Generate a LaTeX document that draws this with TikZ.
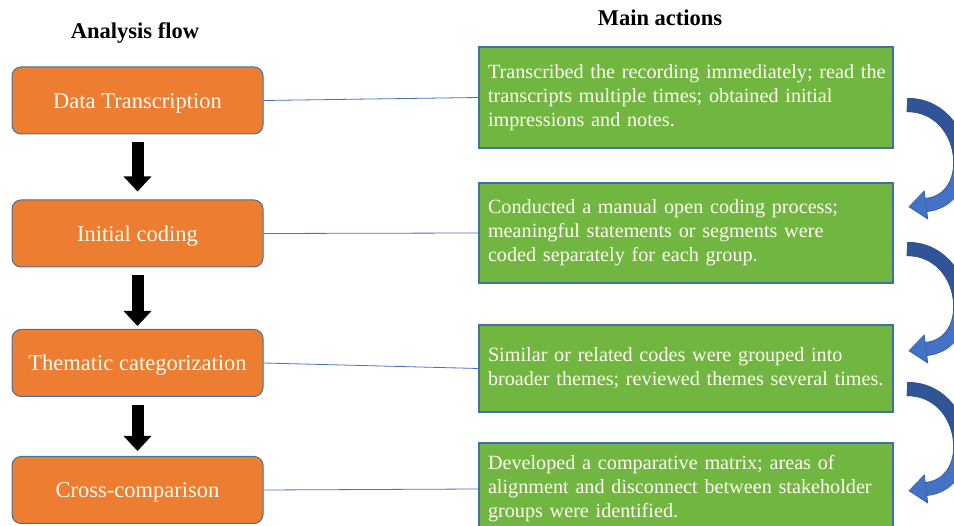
\documentclass[tikz,border=0pt]{standalone}
\usepackage{fontspec}
\setmainfont{Liberation Serif}
\usetikzlibrary{arrows.meta,calc}
\definecolor{oFill}{RGB}{237,125,49}
\definecolor{boxLine}{RGB}{65,113,156}
\definecolor{gFill}{RGB}{114,182,66}
\definecolor{connBlue}{RGB}{68,114,196}
\definecolor{arDark}{RGB}{47,85,151}
\definecolor{arLight}{RGB}{68,114,196}
\definecolor{arEdge}{RGB}{58,98,170}
\definecolor{txtWhite}{RGB}{255,252,240}
\tikzset{
  obox/.style={draw=boxLine, line width=1pt, fill=oFill, rounded corners=9pt,
    minimum width=251pt, minimum height=67pt, text=txtWhite,
    text height=19pt, text depth=3pt,
    font=\fontsize{22.5}{26}\selectfont},
  gbox/.style={draw=boxLine, line width=1.2pt, fill=gFill, minimum width=414pt,
    inner xsep=9pt, text width=396pt, align=left, text=txtWhite,
    font=\fontsize{20.2}{24}\selectfont},
  titletext/.style={font=\fontsize{22.5}{26}\selectfont\bfseries},
  conn/.style={draw=connBlue, line width=0.8pt},
  downarrow/.style={line width=12pt, -{Triangle[width=27pt,length=15pt]}},
  curvarrow/.pic={
    \draw[line width=14pt, arEdge] (0,0) .. controls (62,0) and (72,95) .. (19,100);
    \draw[line width=12pt, arLight] (1,0) .. controls (62,0) and (72,95) .. (19.5,100);
    \filldraw[fill=arLight, draw=arEdge, line width=0.8pt] (20.7,113.9) -- (2.1,101.8) -- (17.3,86.1) -- cycle;
    \draw[line width=14pt, arDark] (0,0) .. controls (37.2,0) and (55.68,34.2) .. (53.26,62.40);
  }
}
\begin{document}
\begin{tikzpicture}[x=1pt,y=-1pt]
\useasboundingbox (0,0) rectangle (954,526);
% titles
\node[titletext] (t1) at (135,33) {Analysis flow};
\node[titletext] (t2) at (660,18) {Main actions};
% analysis flow boxes
\node[obox] (o1) at (137.5,100.5) {Data Transcription};
\node[obox] (o2) at (137.5,233.5) {Initial coding};
\node[obox] (o3) at (137.5,363) {Thematic categorization};
\node[obox] (o4) at (137.5,490) {Cross-comparison};
% main action boxes
\node[gbox, minimum height=101pt] (g1) at (686,97.5)
  {\mbox{Transcribed the recording immediately; read the}\\\mbox{transcripts multiple times; obtained initial}\\\mbox{impressions and notes.}};
\node[gbox, minimum height=100pt] (g2) at (686,233)
  {\mbox{Conducted a manual open coding process;}\\\mbox{meaningful statements or segments were}\\\mbox{coded separately for each group.}};
\node[gbox, minimum height=87pt] (g3) at (686,368.5)
  {\mbox{Similar or related codes were grouped into}\\\mbox{broader themes; reviewed themes several times.}};
\node[gbox, minimum height=92pt] (g4) at (686,489)
  {\mbox{Developed a comparative matrix; areas of}\\\mbox{alignment and disconnect between stakeholder}\\\mbox{groups were identified.}};
% connectors
\draw[conn] (o1.east) -- (g1.west);
\draw[conn] (o2.east) -- (g2.west);
\draw[conn] (o3.east) -- (g3.west);
\draw[conn] (o4.east) -- (g4.west);
% down arrows
\draw[downarrow] ($(o1.south)+(0,8)$) -- ($(o2.north)+(0,-8)$);
\draw[downarrow] ($(o2.south)+(0,8)$) -- ($(o3.north)+(0,-3)$);
\draw[downarrow] ($(o3.south)+(0,8)$) -- ($(o4.north)+(0,-5)$);
% curved arrows
\pic at (907,105) {curvarrow};
\pic at (907,249) {curvarrow};
\pic at (907,389) {curvarrow};
\end{tikzpicture}
\end{document}
